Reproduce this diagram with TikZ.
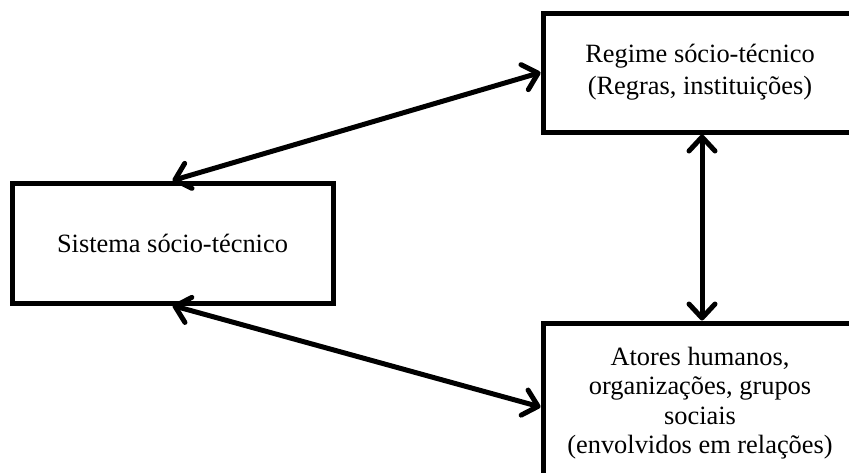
\documentclass[tikz,border=0pt]{standalone}
\usepackage{fontspec}
\setmainfont{Liberation Serif}
\usetikzlibrary{arrows.meta}
\begin{document}
\begin{tikzpicture}[x=1pt,y=-1pt,
  box/.style={draw=black,line width=5pt,rectangle,align=center,inner sep=0pt,
    font=\fontsize{26.4}{30}\selectfont},
  link/.style={line width=5pt,{Straight Barb[length=14pt,width=26pt,line cap=round,line join=round]}-{Straight Barb[length=14pt,width=26pt,line cap=round,line join=round]}}]
\useasboundingbox (0,0) rectangle (849,472);
\clip (0,0) rectangle (849,472);
\fill[white] (0,0) rectangle (849,472);
\node[box,minimum width=321pt,minimum height=120pt] (sys) at (172.5,243) {Sistema sócio-técnico};
\node[box,minimum width=314pt,minimum height=119pt,font=\fontsize{26.4}{32}\selectfont] (reg) at (700,72.5) {Regime sócio-técnico\\(Regras, instituições)};
\node[box,minimum width=314pt,minimum height=160pt,font=\fontsize{26.4}{29.5}\selectfont] (act) at (700,403) {Atores humanos,\\organizações, grupos\\sociais\\(envolvidos em relações)};
\draw[link] (sys.north) -- (reg.west);
\draw[link] (sys.south) -- ([yshift=-4pt]act.west);
\draw[link] ([xshift=2pt]reg.south) -- ([xshift=2pt]act.north);
\end{tikzpicture}
\end{document}
